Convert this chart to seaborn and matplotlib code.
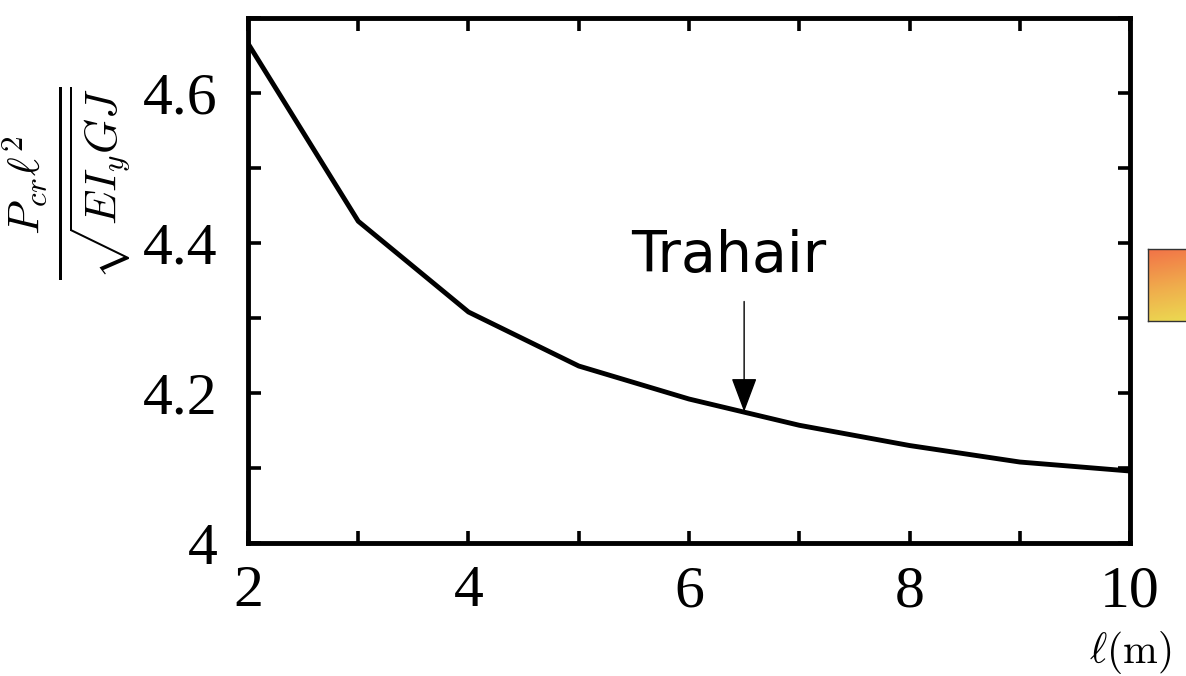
import numpy as np
import matplotlib
matplotlib.use("Agg")
import matplotlib.pyplot as plt
from matplotlib.colors import LinearSegmentedColormap
import seaborn as sns
import pandas as pd

# Span length (m) and normalised critical load
span = [2, 3, 4, 5, 6, 7, 8, 9, 10]
pcr_norm = [4.666, 4.429, 4.308, 4.236, 4.192, 4.157, 4.130, 4.108, 4.096]

xticks = [2, 4, 6, 8, 10]
yticks = [4.0, 4.2, 4.4, 4.6]
ytick_labels = ["4", "4.2", "4.4", "4.6"]

annot_label = "Trahair"
annot_x = 6.5
annot_y = 4.175

sns.set_theme(style="white")
plt.rcParams["font.family"] = ["Liberation Serif", "DejaVu Serif"]
plt.rcParams["mathtext.fontset"] = "cm"
plt.rcParams["text.color"] = "black"
plt.rcParams["xtick.color"] = "black"
plt.rcParams["ytick.color"] = "black"
plt.rcParams["axes.labelcolor"] = "black"

fig = plt.figure(figsize=(11.86, 6.76), dpi=100)
ax = fig.add_axes([0.2091, 0.1967, 0.7437, 0.7767])

df = pd.DataFrame({"span": span, "pcr": pcr_norm})
sns.lineplot(data=df, x="span", y="pcr", ax=ax, color="black", lw=3.5)

ax.set_xlim(2, 10)
ax.set_ylim(4.0, 4.7)
ax.set_xticks(xticks)
ax.set_xticklabels([str(v) for v in xticks])
ax.set_xticks(np.arange(2, 11, 1), minor=True)
ax.set_yticks(yticks)
ax.set_yticklabels(ytick_labels)
ax.set_yticks(np.arange(4.0, 4.71, 0.1), minor=True)

ax.tick_params(which="both", direction="in", length=9, width=2.6,
               top=True, right=True, bottom=True, left=True,
               color="black", labelcolor="black")
ax.tick_params(axis="both", which="major", labelsize=43, pad=16)
ax.tick_params(axis="y", which="major", pad=22)
for sp in ax.spines.values():
    sp.set_visible(True)
    sp.set_color("black")
    sp.set_linewidth(3.5)

ax.set_xlabel(r"$\ell(\mathrm{m})$", fontsize=30, color="black")
ax.xaxis.set_label_coords(1.0, -0.163)
ax.set_ylabel(r"$\frac{P_{cr}\ell^2}{\sqrt{EI_yGJ}}$", fontsize=46, color="black")
ax.yaxis.set_label_coords(-0.130, 0.686)

ax.annotate("", xy=(annot_x, annot_y), xytext=(annot_x, 4.322),
            arrowprops=dict(arrowstyle="-|>,head_length=0.4,head_width=0.15",
                            mutation_scale=54, lw=1.0, color="black",
                            shrinkA=0, shrinkB=0))
ax.text(6.36, 4.362, annot_label, ha="center", va="baseline",
        fontsize=41, family="DejaVu Sans", color="black")

# Colour swatch at the right edge
cmap = LinearSegmentedColormap.from_list(
    "swatch", [(0.95, 0.45, 0.28), (0.94, 0.68, 0.30), (0.92, 0.88, 0.32)])
gy, gx = np.mgrid[0:1:100j, 0:1:40j]
grad = 0.85 * gy + 0.15 * gx
sw = fig.add_axes([1148 / 1186, (676 - 321) / 676, 0.06, 72 / 676])
sw.imshow(grad, cmap=cmap, aspect="auto", extent=(0, 1, 0, 1), origin="upper")
sw.set_xticks([])
sw.set_yticks([])
for sp in sw.spines.values():
    sp.set_color("#333333")
    sp.set_linewidth(1.0)

fig.savefig("out.png", dpi=100)
